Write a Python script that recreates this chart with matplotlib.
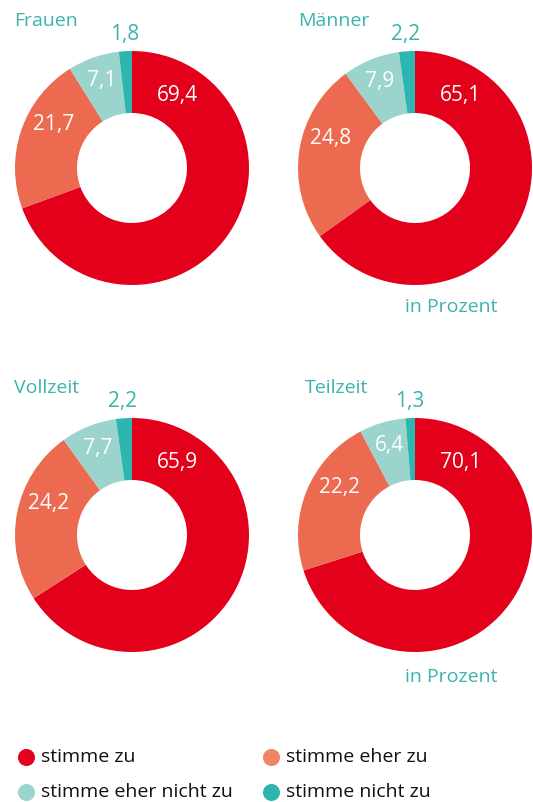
import numpy as np
import matplotlib.pyplot as plt

# Data
groups = ['Frauen', 'Männer', 'Vollzeit', 'Teilzeit']
stimme_zu = [69.4, 65.1, 65.9, 70.1]
stimme_eher_zu = [21.7, 24.8, 24.2, 22.2]
stimme_eher_nicht_zu = [7.1, 7.9, 7.7, 6.4]
stimme_nicht_zu = [1.8, 2.2, 2.2, 1.3]
categories = ['stimme zu', 'stimme eher zu', 'stimme eher nicht zu', 'stimme nicht zu']

colors = ['#E2001A', '#EC6A50', '#9BD3CD', '#2DB5B0']
legend_colors = ['#E2001A', '#F08468', '#9BD3CD', '#2DB5B0']
teal_text = '#3BB3AE'
font = 'Open Sans'

W, H = 533, 802
fig = plt.figure(figsize=(W / 100, H / 100), dpi=100)

# overlay axis in pixel coordinates for titles and legend
bg = fig.add_axes([0, 0, 1, 1])
bg.set_xlim(0, W)
bg.set_ylim(H, 0)
bg.axis('off')

centers = [(132, 168), (415, 168), (132, 535), (415, 535)]
title_x = [14, 298, 14, 305]
R = 117
hole = 55 / R


def fmt(v):
    return f'{v:.1f}'.replace('.', ',')


for i, (cx, cy) in enumerate(centers):
    vals = [stimme_zu[i], stimme_eher_zu[i], stimme_eher_nicht_zu[i], stimme_nicht_zu[i]]
    ax = fig.add_axes([(cx - R) / W, (H - cy - R) / H, 2 * R / W, 2 * R / H])
    ax.pie(vals, colors=colors, startangle=90, counterclock=False, radius=1,
           wedgeprops=dict(width=1 - hole, linewidth=0))
    ax.set_xlim(-1, 1)
    ax.set_ylim(-1, 1)
    ax.set_aspect('equal')
    ax.axis('off')

    rmid = (1 + hole) / 2
    # cumulative start (clockwise from top, in degrees)
    cum = np.cumsum([0] + vals[:-1])
    for j, v in enumerate(vals):
        mid = (cum[j] + v / 2) / 100 * 360
        if j == 0:
            ang = 32
            r = rmid
        elif j == 1:
            ang = mid + 10
            r = rmid * 1.04
        elif j == 2:
            ang = mid
            r = rmid * 1.08
        else:
            ang = mid
            r = 1.14
        a = np.deg2rad(90 - ang)
        x, y = r * np.cos(a), r * np.sin(a)
        col = 'white' if j < 3 else teal_text
        ax.text(x, y, fmt(v), ha='center', va='center', color=col,
                fontsize=15, family=font, weight='medium', clip_on=False)

    bg.text(title_x[i], cy - R - 32 + 2, groups[i], ha='left', va='center',
            color=teal_text, fontsize=14, family=font, weight='medium')

for y in [307, 677]:
    bg.text(405, y, 'in Prozent', ha='left', va='center', color=teal_text,
            fontsize=14, family=font, weight='medium')

# legend
leg_pos = [(26, 757), (271, 757), (26, 792), (271, 792)]
for (lx, ly), lab, c in zip(leg_pos, categories, legend_colors):
    bg.scatter([lx], [ly], s=150, color=c, linewidths=0)
    bg.text(lx + 15, ly, lab, ha='left', va='center', color='#111111',
            fontsize=14, family=font, weight='medium')

fig.savefig('out.png', dpi=100)
